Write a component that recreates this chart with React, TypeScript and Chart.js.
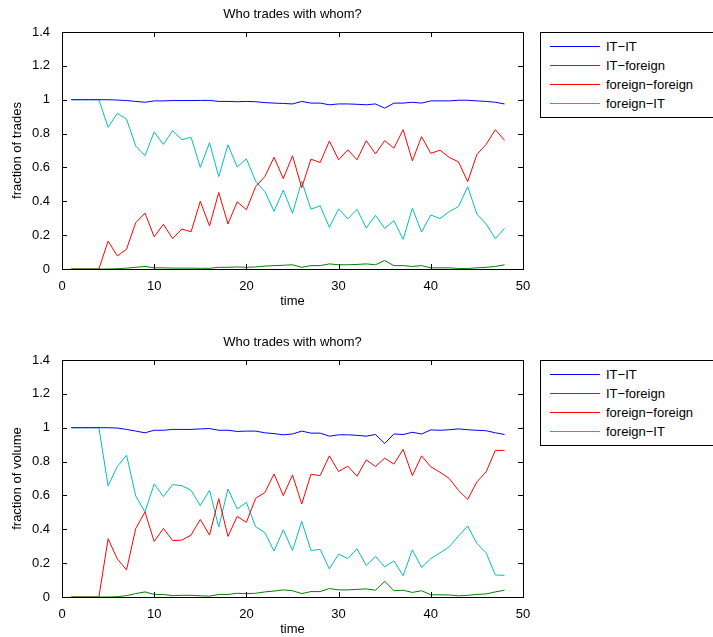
import React, { useEffect, useRef } from "react";
import { Chart, registerables } from "chart.js";
Chart.register(...registerables);

const timeSteps = Array.from({ length: 48 }, (_, i) => i + 1);
const seriesNames = ["IT\u2212IT", "IT\u2212foreign", "foreign\u2212foreign", "foreign\u2212IT"];
const seriesColors = ["#0000ff", "#008000", "#ff0000", "#00bfbf"];
const xTicks = [0, 10, 20, 30, 40, 50];
const yTicks = [0, 0.2, 0.4, 0.6, 0.8, 1, 1.2, 1.4];

const tradesITIT = [1,1,1,1,1,0.998,0.995,0.99,0.985,0.993,0.993,0.995,0.995,0.995,0.996,0.996,0.99,0.99,0.988,0.99,0.988,0.983,0.98,0.978,0.975,0.99,0.98,0.98,0.97,0.975,0.975,0.973,0.97,0.975,0.95,0.98,0.98,0.985,0.98,0.993,0.993,0.993,0.997,0.997,0.993,0.99,0.985,0.975];
const tradesITForeign = [0,0,0,0,0,0.002,0.005,0.01,0.015,0.007,0.007,0.005,0.005,0.005,0.004,0.004,0.01,0.01,0.012,0.01,0.012,0.017,0.02,0.022,0.025,0.01,0.02,0.02,0.03,0.025,0.025,0.027,0.03,0.025,0.05,0.02,0.02,0.015,0.02,0.007,0.007,0.007,0.003,0.003,0.007,0.01,0.015,0.025];
const tradesForeignForeign = [0,0,0,0,0.165,0.077,0.117,0.274,0.33,0.19,0.264,0.18,0.236,0.22,0.4,0.254,0.452,0.266,0.397,0.35,0.486,0.546,0.66,0.534,0.669,0.48,0.649,0.629,0.756,0.645,0.704,0.645,0.758,0.68,0.758,0.714,0.823,0.639,0.782,0.683,0.702,0.659,0.633,0.516,0.677,0.736,0.823,0.76];
const tradesForeignIT = [1,1,1,1,0.837,0.92,0.885,0.726,0.669,0.81,0.736,0.817,0.764,0.778,0.6,0.746,0.546,0.734,0.603,0.651,0.518,0.458,0.341,0.466,0.329,0.518,0.353,0.373,0.246,0.355,0.296,0.353,0.242,0.317,0.24,0.286,0.175,0.359,0.218,0.319,0.298,0.339,0.369,0.486,0.325,0.266,0.179,0.24];

const volumeITIT = [1,1,1,1,1,0.998,0.99,0.98,0.97,0.985,0.985,0.99,0.99,0.99,0.993,0.995,0.985,0.985,0.978,0.98,0.98,0.97,0.965,0.958,0.963,0.98,0.968,0.968,0.95,0.958,0.958,0.955,0.95,0.96,0.907,0.963,0.96,0.973,0.963,0.987,0.985,0.988,0.993,0.988,0.985,0.982,0.97,0.96];
const volumeITForeign = [0,0,0,0,0,0.002,0.008,0.02,0.03,0.015,0.015,0.008,0.01,0.01,0.007,0.005,0.015,0.015,0.022,0.02,0.022,0.03,0.035,0.042,0.037,0.02,0.032,0.032,0.05,0.042,0.042,0.045,0.048,0.04,0.093,0.037,0.04,0.027,0.037,0.013,0.013,0.012,0.007,0.01,0.015,0.018,0.03,0.04];
const volumeForeignForeign = [0,0,0,0,0.344,0.225,0.16,0.405,0.502,0.328,0.405,0.334,0.336,0.366,0.458,0.366,0.581,0.358,0.476,0.441,0.583,0.617,0.727,0.599,0.721,0.549,0.725,0.717,0.834,0.741,0.773,0.713,0.81,0.771,0.82,0.785,0.872,0.717,0.834,0.769,0.737,0.7,0.63,0.577,0.68,0.739,0.866,0.866];
const volumeForeignIT = [1,1,1,1,0.656,0.771,0.838,0.597,0.502,0.668,0.593,0.664,0.658,0.63,0.54,0.63,0.413,0.638,0.52,0.559,0.415,0.381,0.271,0.397,0.275,0.447,0.275,0.281,0.166,0.253,0.227,0.285,0.186,0.239,0.178,0.213,0.126,0.279,0.174,0.227,0.261,0.296,0.36,0.419,0.316,0.261,0.13,0.128];

const FONT = "'Liberation Sans', Arial, sans-serif";

const boxTicks = {
  id: "boxTicks",
  afterDraw(chart: any) {
    const { ctx, chartArea: a, scales } = chart;
    ctx.save();
    ctx.strokeStyle = "#000";
    ctx.lineWidth = 1;
    ctx.strokeRect(a.left + 0.5, a.top + 0.5, a.right - a.left, a.bottom - a.top);
    const L = 5;
    ctx.beginPath();
    xTicks.forEach((v) => {
      const x = Math.round(scales.x.getPixelForValue(v)) + 0.5;
      ctx.moveTo(x, a.bottom); ctx.lineTo(x, a.bottom - L);
      ctx.moveTo(x, a.top); ctx.lineTo(x, a.top + L);
    });
    yTicks.forEach((v) => {
      const y = Math.round(scales.y.getPixelForValue(v)) + 0.5;
      ctx.moveTo(a.left, y); ctx.lineTo(a.left + L, y);
      ctx.moveTo(a.right, y); ctx.lineTo(a.right - L, y);
    });
    ctx.stroke();
    ctx.restore();
  },
};

function Panel({ top, title, yLabel, data }: { top: number; title: string; yLabel: string; data: number[][] }) {
  const ref = useRef<HTMLCanvasElement>(null);
  useEffect(() => {
    const chart = new Chart(ref.current!, {
      type: "line",
      data: {
        datasets: data.map((vals, i) => ({
          label: seriesNames[i],
          data: vals.map((v, j) => ({ x: timeSteps[j], y: v })),
          borderColor: seriesColors[i],
          borderWidth: 1,
          pointRadius: 0,
          tension: 0,
        })),
      },
      options: {
        animation: false,
        responsive: false,
        layout: { padding: { top: 32, right: 17, left: 10, bottom: 9 } },
        plugins: { legend: { display: false }, tooltip: { enabled: false } },
        scales: {
          x: {
            type: "linear", min: 0, max: 50,
            afterBuildTicks: (s: any) => { s.ticks = xTicks.map((v) => ({ value: v })); },
            afterFit: (s: any) => { s.height = 40; },
            grid: { display: false }, border: { display: false },
            ticks: { color: "#000", font: { family: FONT, size: 13 }, padding: 2 },
            title: { display: true, text: "time", color: "#000", font: { family: FONT, size: 13 }, padding: { top: 0, bottom: 0 } },
          },
          y: {
            type: "linear", min: 0, max: 1.4,
            afterBuildTicks: (s: any) => { s.ticks = yTicks.map((v) => ({ value: v })); },
            afterFit: (s: any) => { s.width = 52; },
            grid: { display: false }, border: { display: false },
            ticks: { color: "#000", font: { family: FONT, size: 13 }, padding: 4, callback: (v: any) => String(Math.round(v * 10) / 10) },
            title: { display: true, text: yLabel, color: "#000", font: { family: FONT, size: 13 }, padding: { top: 0, bottom: 4 } },
          },
        },
      },
      plugins: [boxTicks],
    });
    return () => chart.destroy();
  }, []);
  return (
    <div style={{ position: "absolute", left: 0, top, width: 713, height: 318 }}>
      <canvas ref={ref} width={540} height={318} style={{ position: "absolute", left: 0, top: 0 }} />
      <div style={{ position: "absolute", left: 62, width: 461, top: 6, textAlign: "center", fontFamily: FONT, fontSize: 13 }}>{title}</div>
      <div style={{ position: "absolute", left: 540, top: 32, width: 180, height: 84, border: "1px solid #000", background: "#fff" }}>
        {seriesNames.map((n, i) => (
          <div key={n} style={{ position: "absolute", left: 9, top: 5 + i * 19, height: 17, display: "flex", alignItems: "center", fontFamily: FONT, fontSize: 13, whiteSpace: "nowrap" }}>
            <span style={{ display: "inline-block", width: 50, height: 1, background: seriesColors[i], marginRight: 6 }} />
            {n}
          </div>
        ))}
      </div>
    </div>
  );
}

export default function App() {
  return (
    <div style={{ position: "fixed", left: 0, top: 0, width: 713, height: 637, background: "#fff", overflow: "hidden" }}>
      <Panel top={0} title="Who trades with whom?" yLabel="fraction of trades" data={[tradesITIT, tradesITForeign, tradesForeignForeign, tradesForeignIT]} />
      <Panel top={328} title="Who trades with whom?" yLabel="fraction of volume" data={[volumeITIT, volumeITForeign, volumeForeignForeign, volumeForeignIT]} />
    </div>
  );
}
